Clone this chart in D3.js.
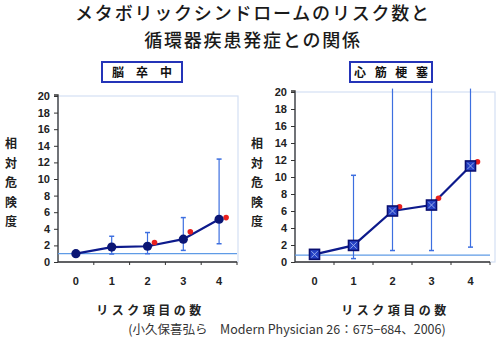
<!DOCTYPE html>
<html><head><meta charset="utf-8">
<script src="https://cdn.jsdelivr.net/npm/d3@7"></script>
<style>body{margin:0;background:#fff}svg{display:block}</style>
</head><body>
<svg id="c" width="500" height="340"></svg>
<script>
// ---- data ----
const titleLines = ["メタボリックシンドロームのリスク数と", "循環器疾患発症との関係"];
const categories = ["0", "1", "2", "3", "4"];
const yTicks = [0, 2, 4, 6, 8, 10, 12, 14, 16, 18, 20];
const yLabelChars = ["相", "対", "危", "険", "度"];
const xTitle = "リスク項目の数";
const citation = "(小久保喜弘ら　Modern Physician 26：675−684、2006)";

const strokeTitle = "脳　卒　中";
const strokeRR = [1.0, 1.8, 1.9, 2.75, 5.15];
const strokeLow = [null, 0.96, 1.0, 1.4, 2.2];
const strokeHigh = [null, 3.1, 3.55, 5.35, 12.4];
const strokeSig = [null, null, 2.35, 3.65, 5.35];
const strokeRef = 1.0;

const miTitle = "心 筋 梗 塞";
const miRR = [0.9, 1.95, 6.0, 6.7, 11.3];
const miLow = [null, 0.4, 1.35, 1.35, 1.75];
const miHigh = [null, 10.2, 20.4, 20.4, 20.4];
const miSig = [null, null, 6.5, 7.5, 11.8];
const miRef = 0.8;

const svg = d3.select("#c");
const jp = "'Noto Sans CJK JP', sans-serif";

// title
svg.selectAll("text.title").data(titleLines).join("text")
  .attr("x", 253).attr("y", (d, i) => 20 + i * 26.5)
  .attr("text-anchor", "middle").attr("font-family", jp)
  .attr("font-size", 18).attr("letter-spacing", 1.8).attr("font-weight", 500).attr("fill", "#1a1a1a")
  .text(d => d);

function panel(o) {
  const g = svg.append("g");
  const x = d3.scaleBand().domain(categories).range([o.x0, o.x1]);
  const y = d3.scaleLinear().domain([0, 20]).range([262, o.yTop]);
  // plot frame
  g.append("rect").attr("x", o.x0).attr("y", y(20)).attr("width", o.frameR - o.x0)
    .attr("height", y(0) - y(20)).attr("fill", "none").attr("stroke", "#d4e0f4").attr("stroke-width", 1.2);
  // y axis
  const ya = d3.axisLeft(y).tickValues(yTicks).tickSize(4).tickPadding(4);
  const yg = g.append("g").attr("transform", `translate(${o.x0},0)`).call(ya);
  yg.select(".domain").attr("stroke", "#333").attr("stroke-width", 1.3).attr("d", `M-4,${y(20)-1}H0V${y(0)}`);
  yg.selectAll(".tick line").attr("stroke", "#333");
  yg.selectAll("text").attr("font-family", "'Liberation Sans', Arial, sans-serif")
    .attr("font-weight", "bold").attr("font-size", 11).attr("fill", "#222");
  // x axis
  const xg = g.append("g").attr("transform", `translate(0,${y(0)})`);
  xg.append("line").attr("x1", o.x0).attr("x2", o.x1).attr("y1", 0).attr("y2", 0)
    .attr("stroke", "#333").attr("stroke-width", 1.3);
  xg.selectAll("line.tk").data(categories).join("line").attr("class", "tk")
    .attr("x1", d => x(d) + x.bandwidth()).attr("x2", d => x(d) + x.bandwidth())
    .attr("y1", 0).attr("y2", 3).attr("stroke", "#333");
  xg.selectAll("text").data(categories).join("text")
    .attr("x", d => x(d) + x.bandwidth() / 2).attr("y", 23)
    .attr("text-anchor", "middle").attr("font-family", "'Liberation Sans', Arial, sans-serif")
    .attr("font-weight", "bold").attr("font-size", 11).attr("fill", "#222").text(d => d);
  const cx = d => x(d) + x.bandwidth() / 2;
  // reference line
  g.append("line").attr("x1", o.x0).attr("x2", o.x1).attr("y1", y(o.ref)).attr("y2", y(o.ref))
    .attr("stroke", "#5f9be6").attr("stroke-width", 1.2);
  // error bars
  const eb = categories.map((c, i) => ({c, lo: o.low[i], hi: o.high[i]})).filter(d => d.lo != null);
  const top = y(20) - 4;
  g.selectAll("line.eb").data(eb).join("line").attr("class", "eb")
    .attr("x1", d => cx(d.c)).attr("x2", d => cx(d.c))
    .attr("y1", d => y(d.lo)).attr("y2", d => Math.max(top, y(d.hi)))
    .attr("stroke", "#3d6fe0").attr("stroke-width", 1.2);
  g.selectAll("line.cl").data(eb).join("line").attr("class", "cl")
    .attr("x1", d => cx(d.c) - 2.5).attr("x2", d => cx(d.c) + 2.5)
    .attr("y1", d => y(d.lo)).attr("y2", d => y(d.lo))
    .attr("stroke", "#3d6fe0").attr("stroke-width", 1.5);
  g.selectAll("line.ch").data(eb.filter(d => d.hi <= 20)).join("line").attr("class", "ch")
    .attr("x1", d => cx(d.c) - 2.5).attr("x2", d => cx(d.c) + 2.5)
    .attr("y1", d => y(d.hi)).attr("y2", d => y(d.hi))
    .attr("stroke", "#3d6fe0").attr("stroke-width", 1.5);
  // line
  const pts = categories.map((c, i) => ({c, v: o.rr[i]}));
  g.append("path").datum(pts).attr("fill", "none").attr("stroke", "#0d1a8c").attr("stroke-width", 2.2)
    .attr("d", d3.line().x(d => cx(d.c)).y(d => y(d.v)));
  // significance marks
  const sg = categories.map((c, i) => ({c, v: o.sig[i]})).filter(d => d.v != null);
  g.selectAll("circle.sg").data(sg).join("circle").attr("class", "sg")
    .attr("cx", d => cx(d.c) + 7).attr("cy", d => y(d.v)).attr("r", 2.8).attr("fill", "#e8201e");
  // markers
  if (o.marker === "circle") {
    g.selectAll("circle.pt").data(pts).join("circle").attr("class", "pt")
      .attr("cx", d => cx(d.c)).attr("cy", d => y(d.v)).attr("r", 4.6).attr("fill", "#0b1675");
  } else {
    const s = 5;
    g.selectAll("rect.pt").data(pts).join("rect").attr("class", "pt")
      .attr("x", d => cx(d.c) - s).attr("y", d => y(d.v) - s).attr("width", 2 * s).attr("height", 2 * s)
      .attr("fill", "#2440c4").attr("stroke", "#0a0f70").attr("stroke-width", 1.6);
    g.selectAll("path.xx").data(pts).join("path").attr("class", "xx")
      .attr("d", d => { const X = cx(d.c), Y = y(d.v), k = 3.2; return `M${X-k},${Y-k}L${X+k},${Y+k}M${X-k},${Y+k}L${X+k},${Y-k}`; })
      .attr("stroke", "#9fb2ee").attr("stroke-width", 0.9);
  }
  // panel title box
  g.append("rect").attr("x", o.box[0]).attr("y", 62).attr("width", o.box[1] - o.box[0]).attr("height", 20)
    .attr("fill", "#fff").attr("stroke", "#2434b8").attr("stroke-width", 2);
  g.append("text").attr("x", (o.box[0] + o.box[1]) / 2 + o.tls / 2).attr("y", 76.5).attr("text-anchor", "middle")
    .attr("font-family", jp).attr("font-weight", "bold").attr("font-size", 12).attr("letter-spacing", o.tls)
    .attr("fill", "#111").text(o.title);
  // y label
  g.selectAll("text.yl").data(yLabelChars).join("text").attr("class", "yl")
    .attr("x", o.ylx).attr("y", (d, i) => 148 + i * 19.5).attr("text-anchor", "middle")
    .attr("font-family", jp).attr("font-weight", "bold").attr("font-size", 12).attr("fill", "#222").text(d => d);
  // x title
  g.append("text").attr("x", (o.x0 + o.x1) / 2 + 3).attr("y", 315).attr("text-anchor", "middle")
    .attr("font-family", jp).attr("font-weight", "bold").attr("font-size", 12).attr("letter-spacing", 3.5)
    .attr("fill", "#222").text(xTitle);
}

panel({x0: 58, x1: 237, frameR: 238, yTop: 96, title: strokeTitle, rr: strokeRR, low: strokeLow,
  high: strokeHigh, sig: strokeSig, ref: strokeRef, marker: "circle", box: [102, 182], ylx: 11, tls: 0});
panel({x0: 295, x1: 490, frameR: 495, yTop: 92, title: miTitle, rr: miRR, low: miLow,
  high: miHigh, sig: miSig, ref: miRef, marker: "square", box: [350, 432], ylx: 257, tls: 3});

svg.append("text").attr("x", 287).attr("y", 334).attr("text-anchor", "middle")
  .attr("font-family", jp).attr("font-size", 12.5).attr("fill", "#333").text(citation);
</script>
</body></html>
